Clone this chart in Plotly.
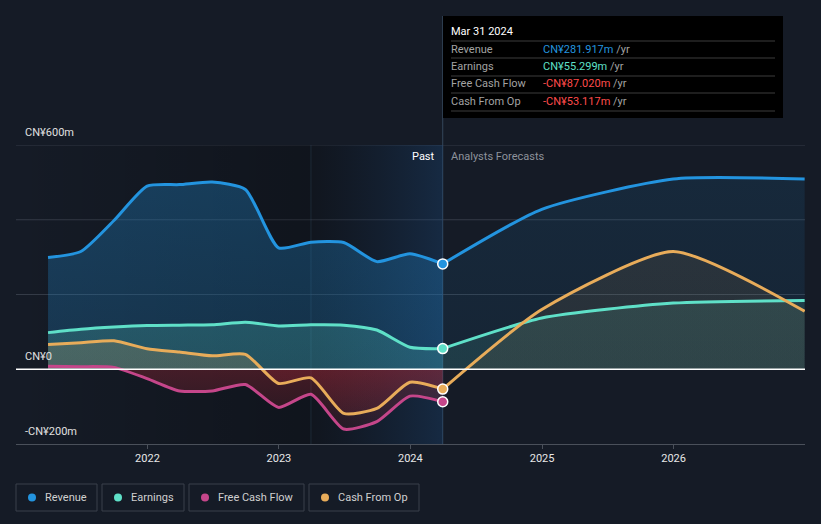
import plotly.graph_objects as go

# ---------------- data ----------------
past_dates = ["2021-03-31", "2021-06-30", "2021-09-30", "2021-12-31",
              "2022-03-31", "2022-06-30", "2022-09-30", "2022-12-31",
              "2023-03-31", "2023-06-30", "2023-09-30", "2023-12-31",
              "2024-03-31"]
revenue_past = [299, 315, 398, 490, 494, 501, 481, 325, 340, 339, 288, 309, 281.917]
earnings_past = [98, 107, 113, 117, 118, 119, 126, 116, 119, 118, 105, 59, 55.299]
fcf_past = [8, 7, 5, -25, -58, -58, -41, -102, -67, -160, -140, -72, -87.020]
cfo_past = [66, 71, 76, 55, 46, 36, 40, -38, -23, -118, -105, -35, -53.117]

fc_dates = ["2024-03-31", "2024-12-31", "2025-12-31", "2026-12-31"]
revenue_fc = [281.917, 428, 509, 509]
earnings_fc = [55.299, 137, 177, 184]
cfo_fc = [-53.117, 160, 315, 155]

x_ticks = ["2022-01-01", "2023-01-01", "2024-01-01", "2025-01-01", "2026-01-01"]
x_tick_labels = ["2022", "2023", "2024", "2025", "2026"]
y_labels = {600: "CN¥600m", 0: "CN¥0", -200: "-CN¥200m"}

tooltip_date = "Mar 31 2024"
tooltip_rows = [("Revenue", "CN¥281.917m", "#2394df"),
                ("Earnings", "CN¥55.299m", "#5fe0c8"),
                ("Free Cash Flow", "-CN¥87.020m", "#ff4b4b"),
                ("Cash From Op", "-CN¥53.117m", "#ff4b4b")]
legend_items = [("Revenue", "#2394df"), ("Earnings", "#5fe0c8"),
                ("Free Cash Flow", "#c5468a"), ("Cash From Op", "#e8ac5a")]

# ---------------- style ----------------
BG = "#151b26"
C_REV, C_EARN, C_FCF, C_CFO = "#2394df", "#5fe0c8", "#c5468a", "#e8ac5a"
W, H = 821, 524
L, R, T, B = 16, 805, 145, 444  # plot area pixels
YMIN, YMAX = -200, 600
X0, X1 = "2021-01-01", "2027-01-01"
SMOOTH = 0.6


def px(xp):
    return (xp - L) / (R - L)


def py(yp):
    return (B - yp) / (B - T)


fig = go.Figure()

# background bands
fig.add_trace(go.Scatter(
    x=[X0, "2023-03-31", "2023-03-31", X0, X0], y=[YMIN, YMIN, YMAX, YMAX, YMIN],
    fill="toself", mode="none", hoverinfo="skip", showlegend=False,
    fillgradient=dict(type="horizontal",
                      colorscale=[[0, "rgba(0,0,0,0.0)"], [1, "rgba(0,0,0,0.25)"]]),
))
fig.add_trace(go.Scatter(
    x=["2023-03-31", "2024-03-31", "2024-03-31", "2023-03-31", "2023-03-31"],
    y=[YMIN, YMIN, YMAX, YMAX, YMIN],
    fill="toself", mode="none", hoverinfo="skip", showlegend=False,
    fillgradient=dict(type="horizontal",
                      colorscale=[[0, "rgba(0,0,0,0.2)"], [1, "rgba(25,80,140,0.28)"]]),
))


def grad(rgb, a_top, a_zero, neg=(175, 40, 55), a_neg0=0.35, a_negb=0.08):
    r, g, b = rgb
    nr, ng, nb = neg
    return dict(type="vertical", start=YMIN, stop=YMAX, colorscale=[
        [0, f"rgba({nr},{ng},{nb},{a_negb})"],
        [0.2499, f"rgba({nr},{ng},{nb},{a_neg0})"],
        [0.25, f"rgba({r},{g},{b},{a_zero})"],
        [1, f"rgba({r},{g},{b},{a_top})"]])


def fill_trace(x, y, fg):
    fig.add_trace(go.Scatter(x=x, y=y, mode="lines", fill="tozeroy",
                             line=dict(width=0, shape="spline", smoothing=SMOOTH),
                             fillgradient=fg, hoverinfo="skip", showlegend=False))


# past fills
fill_trace(past_dates, revenue_past, grad((35, 148, 223), 0.32, 0.22))
fill_trace(past_dates, earnings_past, grad((95, 224, 200), 0.25, 0.18))
fill_trace(past_dates, fcf_past, grad((197, 70, 138), 0.2, 0.15, a_neg0=0.32, a_negb=0.08))
fill_trace(past_dates, cfo_past, grad((232, 172, 90), 0.22, 0.18, a_neg0=0.22, a_negb=0.06))
# forecast fills
fill_trace(fc_dates, revenue_fc, grad((35, 148, 223), 0.12, 0.08, a_neg0=0.0, a_negb=0.0))
fill_trace(fc_dates, earnings_fc, grad((95, 224, 200), 0.14, 0.12, a_neg0=0.0, a_negb=0.0))
fill_trace(fc_dates, cfo_fc, grad((232, 172, 90), 0.1, 0.08, a_neg0=0.03, a_negb=0.0))

# lines
for x, y, c in [(past_dates, revenue_past, C_REV), (fc_dates, revenue_fc, C_REV),
                (past_dates, earnings_past, C_EARN), (fc_dates, earnings_fc, C_EARN),
                (past_dates, fcf_past, C_FCF),
                (past_dates, cfo_past, C_CFO), (fc_dates, cfo_fc, C_CFO)]:
    fig.add_trace(go.Scatter(x=x, y=y, mode="lines",
                             line=dict(color=c, width=3, shape="spline", smoothing=SMOOTH),
                             hoverinfo="skip", showlegend=False))

# markers at last actual point
fig.add_trace(go.Scatter(
    x=[past_dates[-1]] * 4,
    y=[revenue_past[-1], earnings_past[-1], fcf_past[-1], cfo_past[-1]],
    mode="markers",
    marker=dict(size=10, color=[C_REV, C_EARN, C_FCF, C_CFO],
                line=dict(color="white", width=1.5)),
    hoverinfo="skip", showlegend=False))

shapes = []
annotations = []

# gridlines
for v in [600, 400, 200]:
    shapes.append(dict(type="line", xref="paper", yref="y", x0=0, x1=1, y0=v, y1=v,
                       line=dict(color="#343b47", width=1), layer="below"))
# zero line
shapes.append(dict(type="line", xref="paper", yref="y", x0=0, x1=1, y0=0, y1=0,
                   line=dict(color="#ffffff", width=1.5), layer="above"))
# band boundary lines
shapes.append(dict(type="line", xref="x", yref="paper", x0="2023-03-31", x1="2023-03-31",
                   y0=0, y1=1, line=dict(color="rgba(70,100,130,0.35)", width=1), layer="below"))
shapes.append(dict(type="line", xref="x", yref="paper", x0="2024-03-31", x1="2024-03-31",
                   y0=0, y1=py(16), line=dict(color="#34465a", width=1), layer="below"))

# y labels
for v, t in y_labels.items():
    annotations.append(dict(xref="paper", yref="y", x=px(23), y=v, yshift=4,
                            text=t, showarrow=False, xanchor="left", yanchor="bottom",
                            font=dict(color="#e0e0e0", size=11)))

# Past / Forecast labels
annotations.append(dict(xref="x", yref="paper", x="2024-03-31", y=py(156), xshift=-6,
                        text="Past", showarrow=False, xanchor="right", yanchor="middle",
                        font=dict(color="#ffffff", size=11)))
annotations.append(dict(xref="x", yref="paper", x="2024-03-31", y=py(156), xshift=6,
                        text="Analysts Forecasts", showarrow=False, xanchor="left",
                        yanchor="middle", font=dict(color="#8d929b", size=11)))

# tooltip
shapes.append(dict(type="rect", xref="paper", yref="paper", x0=px(443), x1=px(783),
                   y0=py(118), y1=py(16), fillcolor="#000000", line=dict(width=0),
                   layer="above"))
annotations.append(dict(xref="paper", yref="paper", x=px(449), y=py(31), text=tooltip_date,
                        showarrow=False, xanchor="left", yanchor="middle",
                        font=dict(color="#ffffff", size=11)))
row_y = [49, 66.5, 84, 101]
for i, (lab, val, col) in enumerate(tooltip_rows):
    annotations.append(dict(xref="paper", yref="paper", x=px(449), y=py(row_y[i]), text=lab,
                            showarrow=False, xanchor="left", yanchor="middle",
                            font=dict(color="#a3a3a3", size=11)))
    annotations.append(dict(xref="paper", yref="paper", x=px(541), y=py(row_y[i]),
                            text=f"<span style='color:{col}'>{val}</span> /yr",
                            showarrow=False, xanchor="left", yanchor="middle",
                            font=dict(color="#a3a3a3", size=11)))
for ly in [41, 58, 76, 93, 111]:
    shapes.append(dict(type="line", xref="paper", yref="paper", x0=px(451), x1=px(775),
                       y0=py(ly), y1=py(ly), line=dict(color="#3c3c3c", width=1),
                       layer="above"))

# legend boxes
boxes = [(16, 97), (102, 184), (189, 304), (309, 419)]
for (x0, x1), (lab, col) in zip(boxes, legend_items):
    shapes.append(dict(type="rect", xref="paper", yref="paper", x0=px(x0), x1=px(x1),
                       y0=py(511), y1=py(484), line=dict(color="#3a404b", width=1),
                       fillcolor="rgba(0,0,0,0)"))
    shapes.append(dict(type="circle", xref="paper", yref="paper", x0=px(x0 + 12),
                       x1=px(x0 + 20), y0=py(501.5), y1=py(493.5), fillcolor=col,
                       line=dict(width=0)))
    annotations.append(dict(xref="paper", yref="paper", x=px(x0 + 27), y=py(497.5),
                            text=lab, showarrow=False, xanchor="left", yanchor="middle",
                            font=dict(color="#d0d0d0", size=11)))

fig.update_layout(
    width=W, height=H,
    margin=dict(l=L, r=W - R, t=T, b=H - B, pad=0),
    paper_bgcolor=BG, plot_bgcolor=BG,
    font=dict(family="Roboto, sans-serif", color="#e0e0e0", size=11),
    showlegend=False,
    shapes=shapes, annotations=annotations,
    xaxis=dict(type="date", range=[X0, X1], tickvals=x_ticks, ticktext=x_tick_labels,
               showgrid=False, zeroline=False, showline=True, linecolor="#4a505a",
               linewidth=1, ticks="outside", ticklen=4, tickcolor="#4a505a",
               tickfont=dict(color="#e8e8e8", size=11), fixedrange=True),
    yaxis=dict(range=[YMIN, YMAX], showgrid=False, zeroline=False, showticklabels=False,
               fixedrange=True),
)

fig.write_html(
    "out.html",
    config={"displayModeBar": False},
    post_script="document.body.style.margin='0';document.body.style.padding='0';"
                "document.body.style.background='" + BG + "';"
                "document.documentElement.style.overflow='hidden';",
)
